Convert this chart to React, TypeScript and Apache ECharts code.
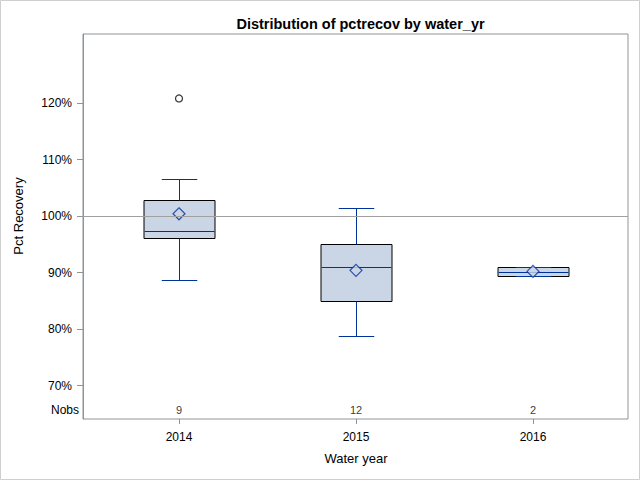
import React, { useEffect, useRef } from "react";
import * as echarts from "echarts";

const categories = ["2014", "2015", "2016"];
// [min, q1, median, q3, max]
const boxStats = [
  [88.7, 96.2, 97.4, 102.9, 106.6],
  [78.7, 84.9, 90.9, 95.0, 101.5],
  [89.4, 89.4, 90.1, 91.0, 91.0],
];
const means = [100.4, 90.4, 90.2];
const outliers = [[0, 120.8]];
const nobs = [9, 12, 2];
const yTicks = [70, 80, 90, 100, 110, 120];
const refValue = 100;

const FONT = "'Liberation Sans', Arial, sans-serif";
const LINE = "#003399";
const FILL = "#cad5e5";
const FRAME = "#8f9499";

const Y_MIN = 64.1;
const Y_MAX = 132.2;
const NOBS_Y = 65.7;

export default function App() {
  const ref = useRef<HTMLDivElement>(null);
  useEffect(() => {
    if (!ref.current) return;
    const chart = echarts.init(ref.current, null, { renderer: "svg" });
    const frame = { left: 83, top: 34, right: 12, bottom: 61 };
    const dataGrid = { left: 90.5, top: 34, width: 531, bottom: 61 };
    const option: any = {
      animation: false,
      backgroundColor: "#fff",
      textStyle: { fontFamily: FONT },
      title: {
        text: "Distribution of pctrecov by water_yr",
        left: 355.5,
        textAlign: "center",
        top: 11,
        textStyle: { fontFamily: FONT, fontSize: 14.5, fontWeight: "bold", color: "#000" },
      },
      grid: [
        { ...frame, show: true, borderColor: FRAME, borderWidth: 1, backgroundColor: "transparent" },
        { ...dataGrid },
      ],
      xAxis: [
        { gridIndex: 0, type: "value", min: 0, max: 1, show: false },
        {
          gridIndex: 1,
          type: "category",
          data: categories,
          boundaryGap: true,
          axisLine: { show: false },
          axisTick: { show: true, alignWithLabel: true, length: 5, lineStyle: { color: FRAME } },
          axisLabel: { color: "#000", fontSize: 12, fontFamily: FONT, margin: 12 },
          name: "Water year",
          nameLocation: "middle",
          nameGap: 33,
          nameTextStyle: { color: "#000", fontSize: 13, fontFamily: FONT },
        },
      ],
      yAxis: [
        {
          gridIndex: 0,
          type: "value",
          min: Y_MIN,
          max: Y_MAX,
          axisLine: { show: true, lineStyle: { color: FRAME } },
          axisTick: { show: true, length: 6, customValues: yTicks, lineStyle: { color: FRAME } },
          axisLabel: {
            customValues: yTicks,
            color: "#000",
            fontSize: 12,
            fontFamily: FONT,
            margin: 11,
            formatter: (v: number) => `${Math.round(v)}%`,
          },
          splitLine: { show: false },
        },
        { gridIndex: 1, type: "value", min: Y_MIN, max: Y_MAX, show: false },
      ],
      series: [
        {
          type: "line",
          xAxisIndex: 0,
          yAxisIndex: 0,
          data: [],
          silent: true,
          markLine: {
            silent: true,
            symbol: "none",
            label: { show: false },
            lineStyle: { color: "#a0a0a0", width: 1, type: "solid" },
            data: [{ yAxis: refValue }],
          },
        },
        {
          type: "custom",
          xAxisIndex: 1,
          yAxisIndex: 1,
          encode: { x: 0, y: [1, 2, 3, 4, 5] },
          data: boxStats.map((s, i) => [i, ...s]),
          renderItem: (params: any, api: any) => {
            const idx = api.value(0);
            const cx = Math.round(api.coord([idx, Y_MIN])[0]) + 0.5;
            const py = (k: number) => Math.round(api.coord([idx, api.value(k)])[1]) + 0.5;
            const yMin = py(1), yQ1 = py(2), yMed = py(3), yQ3 = py(4), yMax = py(5);
            const band = api.size([1, 0])[0];
            const bw = Math.round(band * 0.4);
            const cap = bw / 4;
            const x0 = cx - bw / 2, x1 = cx + bw / 2;
            const ls = { stroke: LINE, lineWidth: 1, fill: "none" };
            return {
              type: "group",
              children: [
                { type: "rect", shape: { x: x0, y: yQ3, width: bw, height: yQ1 - yQ3 }, style: { fill: FILL, stroke: "#000", lineWidth: 1 } },
                { type: "line", shape: { x1: cx, y1: yQ3, x2: cx, y2: yMax }, style: ls },
                { type: "line", shape: { x1: cx, y1: yQ1, x2: cx, y2: yMin }, style: ls },
                { type: "line", shape: { x1: cx - cap, y1: yMax, x2: cx + cap, y2: yMax }, style: ls },
                { type: "line", shape: { x1: cx - cap, y1: yMin, x2: cx + cap, y2: yMin }, style: ls },
                { type: "line", shape: { x1: x0 + 0.5, y1: yMed, x2: x1 - 0.5, y2: yMed }, style: ls },
              ],
            };
          },
          z: 2,
        },
        {
          type: "scatter",
          xAxisIndex: 1,
          yAxisIndex: 1,
          symbol: "diamond",
          symbolSize: [12, 12],
          itemStyle: { color: FILL, borderColor: LINE, borderWidth: 1.2 },
          data: means.map((m, i) => [i, m]),
          z: 3,
        },
        {
          type: "scatter",
          xAxisIndex: 1,
          yAxisIndex: 1,
          symbol: "circle",
          symbolSize: 7,
          itemStyle: { color: "#fff", borderColor: "#000", borderWidth: 1.2 },
          data: outliers,
          z: 3,
        },
        {
          type: "scatter",
          xAxisIndex: 1,
          yAxisIndex: 1,
          symbolSize: 0,
          silent: true,
          data: nobs.map((n, i) => [i, NOBS_Y, n]),
          label: {
            show: true,
            position: "inside",
            formatter: (p: any) => String(p.value[2]),
            color: "#000",
            fontSize: 11,
            fontFamily: FONT,
          },
        },
      ],
      graphic: [
        {
          type: "rect",
          shape: { x: 0.5, y: 0.5, width: 639, height: 479 },
          style: { fill: "none", stroke: "#cfcfcf", lineWidth: 1 },
          silent: true,
        },
        {
          type: "text",
          x: 18,
          y: 216,
          rotation: Math.PI / 2,
          style: {
            text: "Pct Recovery",
            fontFamily: FONT,
            fontSize: 13,
            fill: "#000",
            align: "center",
            verticalAlign: "middle",
          },
        },
        {
          type: "text",
          x: 79,
          y: 410,
          style: {
            text: "Nobs",
            fontFamily: FONT,
            fontSize: 12,
            fill: "#000",
            align: "right",
            verticalAlign: "middle",
          },
        },
      ],
    };
    chart.setOption(option);
    return () => chart.dispose();
  }, []);
  return (
    <div
      ref={ref}
      style={{ position: "absolute", left: 0, top: 0, width: 640, height: 480 }}
    />
  );
}
